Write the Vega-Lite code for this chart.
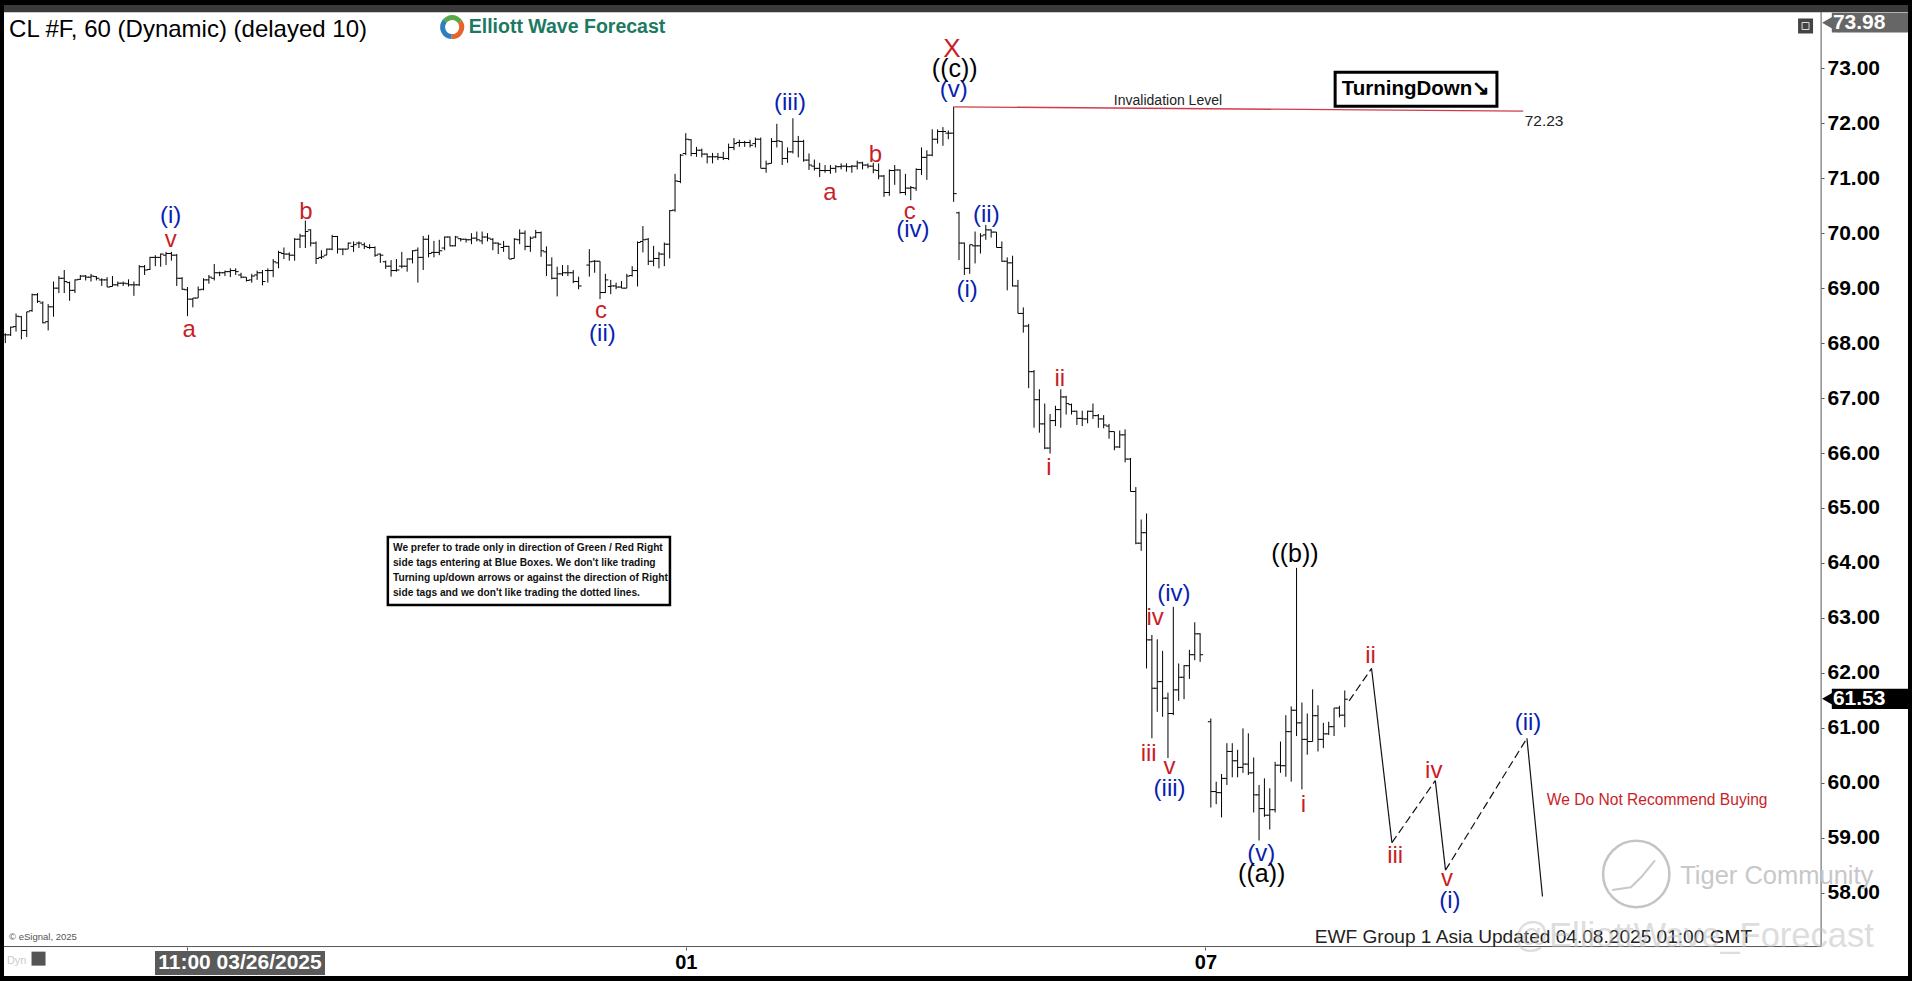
{"$schema":"https://vega.github.io/schema/vega-lite/v6.json","width":1904,"height":971,"autosize":{"type":"none"},"padding":{"left":4,"top":5,"right":4,"bottom":5},"background":"#000000","view":{"fill":"#ffffff","stroke":null},"config":{"axis":{"grid":false,"title":null}},
"datasets":{
"bars":[
{"i":0,"o":68.15,"h":68.18,"l":68.0,"c":68.15},{"i":1,"o":68.15,"h":68.3,"l":68.13,"c":68.29},{"i":2,"o":68.3,"h":68.54,"l":68.21,"c":68.49},{"i":3,"o":68.48,"h":68.49,"l":68.07,"c":68.23},{"i":4,"o":68.23,"h":68.57,"l":68.11,"c":68.57},{"i":5,"o":68.59,"h":68.9,"l":68.57,"c":68.88},{"i":6,"o":68.88,"h":68.91,"l":68.73,"c":68.76},{"i":7,"o":68.73,"h":68.76,"l":68.36,"c":68.37},{"i":8,"o":68.39,"h":68.71,"l":68.23,"c":68.66},{"i":9,"o":68.66,"h":69.12,"l":68.48,"c":69.0},
{"i":10,"o":69.0,"h":69.22,"l":68.91,"c":69.18},{"i":11,"o":69.18,"h":69.33,"l":68.91,"c":69.12},{"i":12,"o":69.1,"h":69.12,"l":68.77,"c":68.96},{"i":13,"o":68.96,"h":69.16,"l":68.91,"c":69.15},{"i":14,"o":69.16,"h":69.24,"l":69.15,"c":69.22},{"i":15,"o":69.22,"h":69.24,"l":69.14,"c":69.2},{"i":16,"o":69.2,"h":69.26,"l":69.12,"c":69.22},{"i":17,"o":69.21,"h":69.22,"l":69.14,"c":69.18},{"i":18,"o":69.15,"h":69.18,"l":69.04,"c":69.15},{"i":19,"o":69.15,"h":69.2,"l":69.02,"c":69.02},
{"i":20,"o":69.03,"h":69.22,"l":69.03,"c":69.06},{"i":21,"o":69.06,"h":69.12,"l":69.03,"c":69.09},{"i":22,"o":69.09,"h":69.12,"l":69.04,"c":69.09},{"i":23,"o":69.08,"h":69.16,"l":69.03,"c":69.06},{"i":24,"o":69.06,"h":69.12,"l":68.86,"c":69.06},{"i":25,"o":69.06,"h":69.42,"l":69.04,"c":69.39},{"i":26,"o":69.39,"h":69.42,"l":69.24,"c":69.33},{"i":27,"o":69.34,"h":69.57,"l":69.33,"c":69.56},{"i":28,"o":69.56,"h":69.6,"l":69.4,"c":69.56},{"i":29,"o":69.56,"h":69.63,"l":69.39,"c":69.62},
{"i":30,"o":69.6,"h":69.66,"l":69.42,"c":69.63},{"i":31,"o":69.63,"h":69.66,"l":69.5,"c":69.6},{"i":32,"o":69.6,"h":69.62,"l":69.04,"c":69.18},{"i":33,"o":69.18,"h":69.2,"l":68.97,"c":68.98},{"i":34,"o":68.97,"h":69.02,"l":68.49,"c":68.8},{"i":35,"o":68.8,"h":68.82,"l":68.65,"c":68.82},{"i":36,"o":68.82,"h":69.03,"l":68.82,"c":68.97},{"i":37,"o":68.98,"h":69.18,"l":68.96,"c":69.15},{"i":38,"o":69.15,"h":69.24,"l":69.08,"c":69.2},{"i":39,"o":69.18,"h":69.44,"l":69.14,"c":69.28},
{"i":40,"o":69.28,"h":69.3,"l":69.22,"c":69.28},{"i":41,"o":69.28,"h":69.32,"l":69.22,"c":69.3},{"i":42,"o":69.3,"h":69.36,"l":69.2,"c":69.32},{"i":43,"o":69.32,"h":69.36,"l":69.24,"c":69.3},{"i":44,"o":69.24,"h":69.28,"l":69.18,"c":69.2},{"i":45,"o":69.2,"h":69.2,"l":69.12,"c":69.14},{"i":46,"o":69.15,"h":69.26,"l":69.1,"c":69.22},{"i":47,"o":69.24,"h":69.32,"l":69.15,"c":69.28},{"i":48,"o":69.28,"h":69.33,"l":69.05,"c":69.12},{"i":49,"o":69.32,"h":69.36,"l":69.1,"c":69.32},
{"i":50,"o":69.32,"h":69.53,"l":69.2,"c":69.48},{"i":51,"o":69.46,"h":69.68,"l":69.36,"c":69.65},{"i":52,"o":69.63,"h":69.74,"l":69.53,"c":69.62},{"i":53,"o":69.62,"h":69.65,"l":69.5,"c":69.6},{"i":54,"o":69.6,"h":69.91,"l":69.5,"c":69.89},{"i":55,"o":69.89,"h":69.99,"l":69.73,"c":69.95},{"i":56,"o":69.95,"h":70.23,"l":69.73,"c":70.03},{"i":57,"o":70.06,"h":70.07,"l":69.76,"c":69.82},{"i":58,"o":69.82,"h":69.85,"l":69.44,"c":69.54},{"i":59,"o":69.56,"h":69.69,"l":69.53,"c":69.57},
{"i":60,"o":69.6,"h":69.72,"l":69.6,"c":69.71},{"i":61,"o":69.71,"h":69.97,"l":69.69,"c":69.94},{"i":62,"o":69.94,"h":69.95,"l":69.63,"c":69.71},{"i":63,"o":69.71,"h":69.72,"l":69.6,"c":69.71},{"i":64,"o":69.71,"h":69.83,"l":69.71,"c":69.82},{"i":65,"o":69.76,"h":69.85,"l":69.66,"c":69.79},{"i":66,"o":69.82,"h":69.85,"l":69.73,"c":69.82},{"i":67,"o":69.79,"h":69.83,"l":69.71,"c":69.76},{"i":68,"o":69.74,"h":69.8,"l":69.71,"c":69.74},{"i":69,"o":69.74,"h":69.76,"l":69.57,"c":69.6},
{"i":70,"o":69.62,"h":69.63,"l":69.46,"c":69.6},{"i":71,"o":69.48,"h":69.5,"l":69.35,"c":69.4},{"i":72,"o":69.4,"h":69.51,"l":69.21,"c":69.32},{"i":73,"o":69.32,"h":69.53,"l":69.3,"c":69.33},{"i":74,"o":69.4,"h":69.66,"l":69.36,"c":69.4},{"i":75,"o":69.4,"h":69.54,"l":69.3,"c":69.53},{"i":76,"o":69.53,"h":69.69,"l":69.45,"c":69.68},{"i":77,"o":69.69,"h":69.74,"l":69.1,"c":69.56},{"i":78,"o":69.56,"h":69.95,"l":69.33,"c":69.89},{"i":79,"o":69.89,"h":69.97,"l":69.56,"c":69.63},
{"i":80,"o":69.65,"h":69.86,"l":69.56,"c":69.65},{"i":81,"o":69.65,"h":69.88,"l":69.6,"c":69.68},{"i":82,"o":69.73,"h":69.94,"l":69.69,"c":69.93},{"i":83,"o":69.93,"h":69.94,"l":69.76,"c":69.77},{"i":84,"o":69.77,"h":69.95,"l":69.76,"c":69.93},{"i":85,"o":69.9,"h":69.91,"l":69.85,"c":69.89},{"i":86,"o":69.89,"h":69.9,"l":69.83,"c":69.88},{"i":87,"o":69.88,"h":70.0,"l":69.8,"c":69.91},{"i":88,"o":69.91,"h":70.03,"l":69.85,"c":69.88},{"i":89,"o":69.86,"h":70.03,"l":69.8,"c":69.93},
{"i":90,"o":69.93,"h":70.0,"l":69.85,"c":69.91},{"i":91,"o":69.89,"h":69.91,"l":69.69,"c":69.82},{"i":92,"o":69.82,"h":69.83,"l":69.62,"c":69.8},{"i":93,"o":69.74,"h":69.86,"l":69.66,"c":69.76},{"i":94,"o":69.76,"h":69.77,"l":69.53,"c":69.53},{"i":95,"o":69.54,"h":69.91,"l":69.54,"c":69.89},{"i":96,"o":69.88,"h":70.07,"l":69.8,"c":70.0},{"i":97,"o":70.0,"h":70.05,"l":69.69,"c":69.76},{"i":98,"o":69.76,"h":69.94,"l":69.66,"c":69.91},{"i":99,"o":69.93,"h":70.06,"l":69.91,"c":70.01},
{"i":100,"o":70.01,"h":70.03,"l":69.57,"c":69.68},{"i":101,"o":69.66,"h":69.76,"l":69.22,"c":69.42},{"i":102,"o":69.42,"h":69.56,"l":69.16,"c":69.18},{"i":103,"o":69.18,"h":69.39,"l":68.85,"c":69.26},{"i":104,"o":69.26,"h":69.42,"l":69.22,"c":69.28},{"i":105,"o":69.28,"h":69.42,"l":69.22,"c":69.28},{"i":106,"o":69.28,"h":69.33,"l":69.09,"c":69.12},{"i":107,"o":69.12,"h":69.21,"l":68.98,"c":69.04},{"i":109,"o":69.42,"h":69.71,"l":69.21,"c":69.48},
{"i":110,"o":69.49,"h":69.51,"l":69.28,"c":69.49},{"i":111,"o":69.49,"h":69.49,"l":68.8,"c":68.92},{"i":112,"o":68.92,"h":69.26,"l":68.91,"c":69.15},{"i":113,"o":69.03,"h":69.15,"l":68.89,"c":69.04},{"i":114,"o":69.04,"h":69.1,"l":68.98,"c":69.02},{"i":115,"o":69.02,"h":69.13,"l":69.0,"c":69.0},{"i":116,"o":69.0,"h":69.26,"l":69.0,"c":69.22},{"i":117,"o":69.23,"h":69.4,"l":69.21,"c":69.32},{"i":118,"o":69.32,"h":69.85,"l":69.03,"c":69.83},{"i":119,"o":69.85,"h":70.13,"l":69.65,"c":69.88},
{"i":120,"o":69.89,"h":69.91,"l":69.42,"c":69.49},{"i":121,"o":69.49,"h":69.77,"l":69.4,"c":69.54},{"i":122,"o":69.54,"h":69.66,"l":69.36,"c":69.62},{"i":123,"o":69.62,"h":69.83,"l":69.4,"c":69.8},{"i":124,"o":69.8,"h":70.42,"l":69.54,"c":70.41},{"i":125,"o":70.42,"h":71.08,"l":70.39,"c":70.95},{"i":126,"o":70.94,"h":71.44,"l":70.91,"c":71.42},{"i":127,"o":71.45,"h":71.82,"l":71.42,"c":71.71},{"i":128,"o":71.7,"h":71.71,"l":71.4,"c":71.45},{"i":129,"o":71.45,"h":71.57,"l":71.39,"c":71.51},
{"i":130,"o":71.51,"h":71.54,"l":71.38,"c":71.44},{"i":131,"o":71.44,"h":71.45,"l":71.27,"c":71.39},{"i":132,"o":71.39,"h":71.46,"l":71.27,"c":71.39},{"i":133,"o":71.39,"h":71.46,"l":71.33,"c":71.38},{"i":134,"o":71.38,"h":71.48,"l":71.33,"c":71.36},{"i":135,"o":71.36,"h":71.63,"l":71.33,"c":71.56},{"i":136,"o":71.56,"h":71.73,"l":71.51,"c":71.63},{"i":137,"o":71.65,"h":71.7,"l":71.57,"c":71.65},{"i":138,"o":71.65,"h":71.68,"l":71.57,"c":71.65},{"i":139,"o":71.65,"h":71.7,"l":71.56,"c":71.6},
{"i":140,"o":71.63,"h":71.74,"l":71.56,"c":71.71},{"i":141,"o":71.71,"h":71.74,"l":71.18,"c":71.18},{"i":142,"o":71.18,"h":71.32,"l":71.1,"c":71.26},{"i":143,"o":71.27,"h":71.73,"l":71.27,"c":71.67},{"i":144,"o":71.67,"h":71.99,"l":71.56,"c":71.68},{"i":145,"o":71.67,"h":71.67,"l":71.24,"c":71.36},{"i":146,"o":71.36,"h":71.56,"l":71.28,"c":71.48},{"i":147,"o":71.48,"h":72.09,"l":71.45,"c":71.67},{"i":148,"o":71.67,"h":71.77,"l":71.38,"c":71.67},{"i":149,"o":71.67,"h":71.7,"l":71.3,"c":71.33},
{"i":150,"o":71.33,"h":71.45,"l":71.15,"c":71.24},{"i":151,"o":71.22,"h":71.34,"l":71.14,"c":71.18},{"i":152,"o":71.18,"h":71.28,"l":71.02,"c":71.14},{"i":153,"o":71.14,"h":71.24,"l":71.1,"c":71.14},{"i":154,"o":71.14,"h":71.24,"l":71.08,"c":71.18},{"i":155,"o":71.18,"h":71.24,"l":71.1,"c":71.21},{"i":156,"o":71.21,"h":71.27,"l":71.16,"c":71.22},{"i":157,"o":71.22,"h":71.27,"l":71.12,"c":71.21},{"i":158,"o":71.21,"h":71.24,"l":71.1,"c":71.22},{"i":159,"o":71.22,"h":71.32,"l":71.16,"c":71.28},
{"i":160,"o":71.28,"h":71.3,"l":71.16,"c":71.24},{"i":161,"o":71.24,"h":71.27,"l":71.18,"c":71.22},{"i":162,"o":71.22,"h":71.28,"l":71.09,"c":71.15},{"i":163,"o":71.14,"h":71.27,"l":70.98,"c":71.04},{"i":164,"o":71.04,"h":71.06,"l":70.66,"c":70.74},{"i":165,"o":70.74,"h":71.16,"l":70.68,"c":71.14},{"i":166,"o":71.14,"h":71.24,"l":70.88,"c":71.15},{"i":167,"o":71.15,"h":71.16,"l":70.72,"c":70.74},{"i":168,"o":70.74,"h":71.08,"l":70.69,"c":70.82},{"i":169,"o":70.82,"h":70.86,"l":70.6,"c":70.83},
{"i":170,"o":70.82,"h":71.18,"l":70.77,"c":71.16},{"i":171,"o":71.16,"h":71.56,"l":71.06,"c":71.38},{"i":172,"o":71.38,"h":71.51,"l":70.97,"c":71.42},{"i":173,"o":71.42,"h":71.89,"l":71.4,"c":71.71},{"i":174,"o":71.71,"h":71.89,"l":71.63,"c":71.85},{"i":175,"o":71.85,"h":71.93,"l":71.59,"c":71.85},{"i":176,"o":71.82,"h":71.87,"l":71.71,"c":71.82},{"i":177,"o":71.82,"h":72.3,"l":70.57,"c":70.72},{"i":178,"o":70.37,"h":70.39,"l":69.51,"c":69.82},{"i":179,"o":69.82,"h":69.83,"l":69.24,"c":69.36},
{"i":180,"o":69.36,"h":69.79,"l":69.26,"c":69.79},{"i":181,"o":69.77,"h":70.03,"l":69.45,"c":69.77},{"i":182,"o":69.77,"h":70.0,"l":69.63,"c":69.95},{"i":183,"o":69.97,"h":70.15,"l":69.88,"c":70.06},{"i":184,"o":70.06,"h":70.07,"l":69.92,"c":70.02},{"i":185,"o":70.02,"h":70.02,"l":69.74,"c":69.74},{"i":186,"o":69.74,"h":69.85,"l":69.48,"c":69.49},{"i":187,"o":69.49,"h":69.56,"l":68.96,"c":69.46},{"i":188,"o":69.46,"h":69.59,"l":69.03,"c":69.04},{"i":189,"o":69.04,"h":69.15,"l":68.54,"c":68.54},
{"i":190,"o":68.54,"h":68.65,"l":68.19,"c":68.31},{"i":191,"o":68.31,"h":68.35,"l":67.18,"c":67.48},{"i":192,"o":67.48,"h":67.51,"l":66.46,"c":66.97},{"i":193,"o":66.97,"h":67.16,"l":66.37,"c":66.53},{"i":194,"o":66.53,"h":66.9,"l":66.07,"c":66.09},{"i":195,"o":66.09,"h":66.71,"l":65.99,"c":66.59},{"i":196,"o":66.59,"h":66.86,"l":66.49,"c":66.79},{"i":197,"o":66.79,"h":67.16,"l":66.46,"c":67.02},{"i":198,"o":67.02,"h":67.04,"l":66.7,"c":66.9},{"i":199,"o":66.88,"h":66.9,"l":66.7,"c":66.76},
{"i":200,"o":66.76,"h":66.77,"l":66.51,"c":66.63},{"i":201,"o":66.63,"h":66.77,"l":66.49,"c":66.62},{"i":202,"o":66.62,"h":66.77,"l":66.54,"c":66.76},{"i":203,"o":66.76,"h":66.9,"l":66.62,"c":66.68},{"i":204,"o":66.68,"h":66.71,"l":66.46,"c":66.62},{"i":205,"o":66.62,"h":66.69,"l":66.45,"c":66.51},{"i":206,"o":66.49,"h":66.53,"l":66.26,"c":66.39},{"i":207,"o":66.39,"h":66.39,"l":66.05,"c":66.11},{"i":208,"o":66.11,"h":66.41,"l":66.09,"c":66.33},{"i":209,"o":66.33,"h":66.43,"l":65.83,"c":65.89},
{"i":210,"o":65.89,"h":65.91,"l":65.3,"c":65.3},{"i":211,"o":65.3,"h":65.38,"l":64.34,"c":64.36},{"i":212,"o":64.36,"h":64.79,"l":64.22,"c":64.55},{"i":213,"o":64.55,"h":64.9,"l":62.08,"c":62.6},{"i":214,"o":62.6,"h":62.69,"l":60.81,"c":61.72},{"i":215,"o":61.72,"h":62.61,"l":61.29,"c":61.84},{"i":216,"o":61.84,"h":62.4,"l":61.2,"c":61.54},{"i":217,"o":61.54,"h":61.64,"l":60.45,"c":61.26},{"i":218,"o":61.26,"h":63.2,"l":61.23,"c":61.69},{"i":219,"o":61.69,"h":62.17,"l":61.49,"c":61.92},
{"i":220,"o":61.92,"h":62.14,"l":61.52,"c":62.13},{"i":221,"o":62.13,"h":62.42,"l":61.89,"c":62.33},{"i":222,"o":62.33,"h":62.92,"l":62.23,"c":62.71},{"i":223,"o":62.71,"h":62.72,"l":62.2,"c":62.33},{"i":225,"o":61.11,"h":61.17,"l":59.55,"c":59.84},{"i":226,"o":59.84,"h":60.02,"l":59.61,"c":59.82},{"i":227,"o":59.82,"h":60.16,"l":59.37,"c":60.08},{"i":228,"o":60.08,"h":60.72,"l":59.96,"c":60.57},{"i":229,"o":60.57,"h":60.72,"l":60.1,"c":60.4},
{"i":230,"o":60.4,"h":60.6,"l":60.1,"c":60.28},{"i":231,"o":60.28,"h":60.99,"l":60.18,"c":60.34},{"i":232,"o":60.34,"h":60.9,"l":60.14,"c":60.18},{"i":233,"o":60.18,"h":60.46,"l":59.46,"c":59.78},{"i":234,"o":59.78,"h":59.96,"l":58.95,"c":59.53},{"i":235,"o":59.53,"h":60.08,"l":59.38,"c":59.41},{"i":236,"o":59.41,"h":59.9,"l":59.15,"c":59.51},{"i":237,"o":59.51,"h":60.38,"l":59.46,"c":60.32},{"i":238,"o":60.32,"h":60.75,"l":60.18,"c":60.31},{"i":239,"o":60.31,"h":61.23,"l":60.11,"c":60.93},
{"i":240,"o":60.93,"h":61.39,"l":60.02,"c":61.32},{"i":241,"o":61.32,"h":63.91,"l":60.85,"c":61.09},{"i":242,"o":61.09,"h":61.46,"l":59.88,"c":60.79},{"i":243,"o":60.79,"h":61.26,"l":60.51,"c":60.75},{"i":244,"o":60.75,"h":61.7,"l":60.75,"c":61.22},{"i":245,"o":61.22,"h":61.41,"l":60.57,"c":60.79},{"i":246,"o":60.79,"h":61.09,"l":60.63,"c":60.89},{"i":247,"o":60.89,"h":61.11,"l":60.87,"c":61.02},{"i":248,"o":61.02,"h":61.36,"l":60.85,"c":61.36},{"i":249,"o":61.36,"h":61.4,"l":61.19,"c":61.23},{"i":250,"o":61.23,"h":61.68,"l":61.01,"c":61.52}
],
"waves":[
{"t":"(i)","k":"blue","i":30.87,"p":70.32},{"t":"(ii)","k":"blue","i":111.44,"p":68.17},{"t":"(iii)","k":"blue","i":146.45,"p":72.36},{"t":"(iv)","k":"blue","i":169.4,"p":70.05},{"t":"(v)","k":"blue","i":177,"p":72.61},{"t":"(i)","k":"blue","i":179.5,"p":68.97},{"t":"(ii)","k":"blue","i":183.1,"p":70.34},{"t":"(iii)","k":"blue","i":217.3,"p":59.89},{"t":"(iv)","k":"blue","i":218.1,"p":63.43},{"t":"(v)","k":"blue","i":234.4,"p":58.71},{"t":"(i)","k":"blue","i":269.6,"p":57.85},{"t":"(ii)","k":"blue","i":284.2,"p":61.09},
{"t":"v","k":"red","i":30.87,"p":69.88},{"t":"a","k":"red","i":34.3,"p":68.23},{"t":"b","k":"red","i":56.1,"p":70.39},{"t":"c","k":"red","i":111.2,"p":68.58},{"t":"a","k":"red","i":153.9,"p":70.74},{"t":"b","k":"red","i":162.4,"p":71.42},{"t":"c","k":"red","i":168.8,"p":70.39},{"t":"i","k":"red","i":194.8,"p":65.73},{"t":"ii","k":"red","i":196.8,"p":67.35},{"t":"iii","k":"red","i":213.4,"p":60.53},{"t":"iv","k":"red","i":214.6,"p":63.0},{"t":"v","k":"red","i":217.3,"p":60.29},{"t":"i","k":"red","i":242.3,"p":59.6},{"t":"ii","k":"red","i":254.8,"p":62.31},{"t":"iii","k":"red","i":259.4,"p":58.67},{"t":"iv","k":"red","i":266.6,"p":60.22},{"t":"v","k":"red","i":269.1,"p":58.25},
{"t":"X","k":"x","i":176.7,"p":73.35},
{"t":"((c))","k":"black","i":177.2,"p":72.98},{"t":"((b))","k":"black","i":240.7,"p":64.17},{"t":"((a))","k":"black","i":234.5,"p":58.34}
],
"path":[
{"seg":"a","d":1,"i":250.8,"p":61.49},{"seg":"a","d":1,"i":255,"p":62.08},{"seg":"b","d":0,"i":255,"p":62.08},{"seg":"b","d":0,"i":258.8,"p":58.91},{"seg":"c","d":1,"i":258.8,"p":58.91},{"seg":"c","d":1,"i":266.9,"p":60.04},{"seg":"d","d":0,"i":266.9,"p":60.04},{"seg":"d","d":0,"i":268.8,"p":58.41},{"seg":"e","d":1,"i":268.8,"p":58.41},{"seg":"e","d":1,"i":284,"p":60.81},{"seg":"f","d":0,"i":284,"p":60.81},{"seg":"f","d":0,"i":286.9,"p":57.93}
],
"swoosh":[{"i":299.9,"p":58.05},{"i":303.4,"p":58.1},{"i":305.3,"p":58.28},{"i":307.9,"p":58.59}],
"invalid":[{"i":177,"p":72.3},{"i":283.3,"p":72.22}],
"axisLines":[{"i":-0.243,"i2":338.9,"p":57.02,"p2":57.02},{"i":338.9,"i2":338.9,"p":57.02,"p2":74.02}],
"boxes":[
{"k":"band","i":-0.243,"i2":355.12,"p":74.02,"p2":74.152},
{"k":"grayTag","i":340.9,"i2":355.12,"p":73.65,"p2":74.01},
{"k":"blackTag","i":340.9,"i2":355.12,"p":61.34,"p2":61.71},
{"k":"dateTag","i":27.94,"i2":59.67,"p":56.5,"p2":56.94},
{"k":"frame","i":248.2,"i2":278.4,"p":72.31,"p2":72.93},
{"k":"frame2","i":71.4,"i2":124.05,"p":63.235,"p2":64.47}
],
"marks":[
{"k":"grayArrow","i":340.7,"p":73.83},{"k":"blackArrow","i":340.7,"p":61.53},{"k":"icon","i":336,"p":73.77},{"k":"lock","i":6.2,"p":56.8},{"k":"ring","i":304.4,"p":58.34}
],
"notes":[
{"k":"title","t":"CL #F, 60 (Dynamic) (delayed 10)","i":0.7,"p":73.7},
{"k":"brand","t":"Elliott Wave Forecast","i":86.5,"p":73.75},
{"k":"inv","t":"Invalidation Level","i":217,"p":72.41},
{"k":"invv","t":"72.23","i":287.2,"p":72.04},
{"k":"turn","t":"TurningDown↘","i":263.3,"p":72.62},
{"k":"info","t":"We prefer to trade only in direction of Green / Red Right","i":72.35,"p":64.27},
{"k":"info","t":"side tags entering at Blue Boxes. We don't like trading","i":72.35,"p":64.0},
{"k":"info","t":"Turning up/down arrows or against the direction of Right","i":72.35,"p":63.73},
{"k":"info","t":"side tags and we don't like trading the dotted lines.","i":72.35,"p":63.45},
{"k":"advice","t":"We Do Not Recommend Buying","i":287.7,"p":59.69},
{"k":"ewf","t":"EWF Group 1 Asia Updated 04.08.2025 01:00 GMT","i":244.4,"p":57.2},
{"k":"mark","t":"@ElliottWave_Forecast","i":281.6,"p":57.19},
{"k":"tiger","t":"Tiger Community","i":312.6,"p":58.3},
{"k":"esignal","t":"© eSignal, 2025","i":0.7,"p":57.19},
{"k":"dyn","t":"Dyn","i":0.3,"p":56.76},
{"k":"date","t":"11:00 03/26/2025","i":43.8,"p":56.72},
{"k":"tag","t":"73.98","i":341.1,"p":73.83},
{"k":"tag","t":"61.53","i":341.1,"p":61.52}
],
"logo":[{"i":83.4,"p":73.75}]
},
"layer":[
{"data":{"name":"bars"},"mark":{"type":"rule","color":"#000000","strokeWidth":1},"encoding":{
"x":{"field":"i","type":"quantitative","scale":{"domain":[-0.243,355.12],"nice":false,"zero":false},"axis":{"orient":"bottom","offset":-29,"values":[34,127,224],"labelExpr":"datum.value==127?'01':datum.value==224?'07':''","grid":false,"domain":false,"title":null,"tickColor":"#555555","tickSize":3,"labelFont":"Liberation Sans","labelFontWeight":"bold","labelFontSize":20,"labelColor":"#000000","labelPadding":2,"labelOverlap":false,"labelBound":false,"labelFlush":false}},
"y":{"field":"l","type":"quantitative","scale":{"domain":[56.484,74.152],"nice":false,"zero":false},"axis":{"orient":"right","offset":-87,"values":[58,59,60,61,62,63,64,65,66,67,68,69,70,71,72,73],"format":".2f","grid":false,"domain":false,"title":null,"tickColor":"#555555","tickSize":3,"labelFont":"Liberation Sans","labelFontWeight":"bold","labelFontSize":21,"labelColor":"#000000","labelPadding":3,"labelOverlap":false,"labelBound":false,"labelFlush":false}},
"y2":{"field":"h"}}},
{"data":{"name":"bars"},"mark":{"type":"tick","orient":"horizontal","color":"#000000","size":3,"thickness":1,"xOffset":-1.5,"opacity":1},"encoding":{"x":{"field":"i","type":"quantitative"},"y":{"field":"o","type":"quantitative"}}},
{"data":{"name":"bars"},"mark":{"type":"tick","orient":"horizontal","color":"#000000","size":3,"thickness":1,"xOffset":1.5,"opacity":1},"encoding":{"x":{"field":"i","type":"quantitative"},"y":{"field":"c","type":"quantitative"}}},
{"data":{"name":"path"},"transform":[{"filter":"datum.d==1"}],"mark":{"type":"line","color":"#111111","strokeWidth":1.2,"strokeDash":[8,4]},"encoding":{"x":{"field":"i","type":"quantitative"},"y":{"field":"p","type":"quantitative"},"detail":{"field":"seg"}}},
{"data":{"name":"path"},"transform":[{"filter":"datum.d==0"}],"mark":{"type":"line","color":"#111111","strokeWidth":1.2},"encoding":{"x":{"field":"i","type":"quantitative"},"y":{"field":"p","type":"quantitative"},"detail":{"field":"seg"}}},
{"data":{"name":"invalid"},"mark":{"type":"line","color":"#d23a4a","strokeWidth":1.3},"encoding":{"x":{"field":"i","type":"quantitative"},"y":{"field":"p","type":"quantitative"}}},
{"data":{"name":"swoosh"},"mark":{"type":"line","color":"#c8c8c8","strokeWidth":2},"encoding":{"x":{"field":"i","type":"quantitative"},"y":{"field":"p","type":"quantitative"}}},
{"data":{"name":"axisLines"},"mark":{"type":"rule","color":"#555555","strokeWidth":1},"encoding":{"x":{"field":"i","type":"quantitative"},"x2":{"field":"i2"},"y":{"field":"p","type":"quantitative"},"y2":{"field":"p2"}}},
{"data":{"name":"boxes"},"transform":[{"filter":"datum.k=='band'"}],"mark":{"type":"rect","fill":"#3a3a3a"},"encoding":{"x":{"field":"i","type":"quantitative"},"x2":{"field":"i2"},"y":{"field":"p","type":"quantitative"},"y2":{"field":"p2"}}},
{"data":{"name":"boxes"},"transform":[{"filter":"datum.k=='grayTag'"}],"mark":{"type":"rect","fill":"#666666"},"encoding":{"x":{"field":"i","type":"quantitative"},"x2":{"field":"i2"},"y":{"field":"p","type":"quantitative"},"y2":{"field":"p2"}}},
{"data":{"name":"boxes"},"transform":[{"filter":"datum.k=='blackTag'"}],"mark":{"type":"rect","fill":"#000000"},"encoding":{"x":{"field":"i","type":"quantitative"},"x2":{"field":"i2"},"y":{"field":"p","type":"quantitative"},"y2":{"field":"p2"}}},
{"data":{"name":"boxes"},"transform":[{"filter":"datum.k=='dateTag'"}],"mark":{"type":"rect","fill":"#5a5a5a"},"encoding":{"x":{"field":"i","type":"quantitative"},"x2":{"field":"i2"},"y":{"field":"p","type":"quantitative"},"y2":{"field":"p2"}}},
{"data":{"name":"boxes"},"transform":[{"filter":"datum.k=='frame'"}],"mark":{"type":"rect","fill":"#ffffff","stroke":"#000000","strokeWidth":3},"encoding":{"x":{"field":"i","type":"quantitative"},"x2":{"field":"i2"},"y":{"field":"p","type":"quantitative"},"y2":{"field":"p2"}}},
{"data":{"name":"boxes"},"transform":[{"filter":"datum.k=='frame2'"}],"mark":{"type":"rect","fill":"#ffffff","stroke":"#000000","strokeWidth":2.5},"encoding":{"x":{"field":"i","type":"quantitative"},"x2":{"field":"i2"},"y":{"field":"p","type":"quantitative"},"y2":{"field":"p2"}}},
{"data":{"name":"marks"},"transform":[{"filter":"datum.k=='grayArrow'"}],"mark":{"type":"point","shape":"triangle-left","filled":true,"color":"#666666","size":400,"opacity":1},"encoding":{"x":{"field":"i","type":"quantitative"},"y":{"field":"p","type":"quantitative"}}},
{"data":{"name":"marks"},"transform":[{"filter":"datum.k=='blackArrow'"}],"mark":{"type":"point","shape":"triangle-left","filled":true,"color":"#000000","size":400,"opacity":1},"encoding":{"x":{"field":"i","type":"quantitative"},"y":{"field":"p","type":"quantitative"}}},
{"data":{"name":"marks"},"transform":[{"filter":"datum.k=='icon'"}],"mark":{"type":"point","shape":"square","filled":true,"color":"#444444","size":225,"opacity":1},"encoding":{"x":{"field":"i","type":"quantitative"},"y":{"field":"p","type":"quantitative"}}},
{"data":{"name":"marks"},"transform":[{"filter":"datum.k=='icon'"}],"mark":{"type":"point","shape":"square","filled":false,"color":"#dddddd","strokeWidth":1,"size":49,"opacity":1},"encoding":{"x":{"field":"i","type":"quantitative"},"y":{"field":"p","type":"quantitative"}}},
{"data":{"name":"marks"},"transform":[{"filter":"datum.k=='lock'"}],"mark":{"type":"point","shape":"square","filled":true,"color":"#555555","size":196,"opacity":1},"encoding":{"x":{"field":"i","type":"quantitative"},"y":{"field":"p","type":"quantitative"}}},
{"data":{"name":"marks"},"transform":[{"filter":"datum.k=='ring'"}],"mark":{"type":"point","shape":"circle","filled":false,"color":"#c4c4c4","strokeWidth":2.5,"size":4400,"opacity":1},"encoding":{"x":{"field":"i","type":"quantitative"},"y":{"field":"p","type":"quantitative"}}},
{"data":{"name":"logo"},"mark":{"type":"arc","theta":-0.9,"theta2":1.0,"radius":12,"radius2":7,"color":"#5aa84a"},"encoding":{"x":{"field":"i","type":"quantitative"},"y":{"field":"p","type":"quantitative"}}},
{"data":{"name":"logo"},"mark":{"type":"arc","theta":1.0,"theta2":3.2,"radius":12,"radius2":7,"color":"#e8622c"},"encoding":{"x":{"field":"i","type":"quantitative"},"y":{"field":"p","type":"quantitative"}}},
{"data":{"name":"logo"},"mark":{"type":"arc","theta":3.2,"theta2":5.4,"radius":12,"radius2":7,"color":"#2f7fc0"},"encoding":{"x":{"field":"i","type":"quantitative"},"y":{"field":"p","type":"quantitative"}}},
{"data":{"name":"waves"},"transform":[{"filter":"datum.k=='blue'"}],"mark":{"type":"text","font":"Liberation Sans","fontSize":24,"color":"#0a1fb0","align":"center","baseline":"middle"},"encoding":{"x":{"field":"i","type":"quantitative"},"y":{"field":"p","type":"quantitative"},"text":{"field":"t"}}},
{"data":{"name":"waves"},"transform":[{"filter":"datum.k=='red'"}],"mark":{"type":"text","font":"Liberation Sans","fontSize":24,"color":"#c81e28","align":"center","baseline":"middle"},"encoding":{"x":{"field":"i","type":"quantitative"},"y":{"field":"p","type":"quantitative"},"text":{"field":"t"}}},
{"data":{"name":"waves"},"transform":[{"filter":"datum.k=='x'"}],"mark":{"type":"text","font":"Liberation Sans","fontSize":26,"color":"#c81e28","align":"center","baseline":"middle"},"encoding":{"x":{"field":"i","type":"quantitative"},"y":{"field":"p","type":"quantitative"},"text":{"field":"t"}}},
{"data":{"name":"waves"},"transform":[{"filter":"datum.k=='black'"}],"mark":{"type":"text","font":"Liberation Sans","fontSize":25,"color":"#000000","align":"center","baseline":"middle"},"encoding":{"x":{"field":"i","type":"quantitative"},"y":{"field":"p","type":"quantitative"},"text":{"field":"t"}}},
{"data":{"name":"notes"},"transform":[{"filter":"datum.k=='title'"}],"mark":{"type":"text","font":"Liberation Sans","fontSize":24,"color":"#000000","align":"left","baseline":"middle"},"encoding":{"x":{"field":"i","type":"quantitative"},"y":{"field":"p","type":"quantitative"},"text":{"field":"t"}}},
{"data":{"name":"notes"},"transform":[{"filter":"datum.k=='brand'"}],"mark":{"type":"text","font":"Liberation Sans","fontWeight":"bold","fontSize":19.5,"color":"#1c7a63","align":"left","baseline":"middle"},"encoding":{"x":{"field":"i","type":"quantitative"},"y":{"field":"p","type":"quantitative"},"text":{"field":"t"}}},
{"data":{"name":"notes"},"transform":[{"filter":"datum.k=='inv'"}],"mark":{"type":"text","font":"Liberation Sans","fontSize":14,"color":"#222222","align":"center","baseline":"middle"},"encoding":{"x":{"field":"i","type":"quantitative"},"y":{"field":"p","type":"quantitative"},"text":{"field":"t"}}},
{"data":{"name":"notes"},"transform":[{"filter":"datum.k=='invv'"}],"mark":{"type":"text","font":"Liberation Sans","fontSize":15.5,"color":"#222222","align":"center","baseline":"middle"},"encoding":{"x":{"field":"i","type":"quantitative"},"y":{"field":"p","type":"quantitative"},"text":{"field":"t"}}},
{"data":{"name":"notes"},"transform":[{"filter":"datum.k=='turn'"}],"mark":{"type":"text","font":"Liberation Sans","fontWeight":"bold","fontSize":20.5,"color":"#000000","align":"center","baseline":"middle"},"encoding":{"x":{"field":"i","type":"quantitative"},"y":{"field":"p","type":"quantitative"},"text":{"field":"t"}}},
{"data":{"name":"notes"},"transform":[{"filter":"datum.k=='info'"}],"mark":{"type":"text","font":"Liberation Sans","fontWeight":"bold","fontSize":10.2,"color":"#111111","align":"left","baseline":"middle"},"encoding":{"x":{"field":"i","type":"quantitative"},"y":{"field":"p","type":"quantitative"},"text":{"field":"t"}}},
{"data":{"name":"notes"},"transform":[{"filter":"datum.k=='advice'"}],"mark":{"type":"text","font":"Liberation Sans","fontSize":15.6,"color":"#c81e28","align":"left","baseline":"middle"},"encoding":{"x":{"field":"i","type":"quantitative"},"y":{"field":"p","type":"quantitative"},"text":{"field":"t"}}},
{"data":{"name":"notes"},"transform":[{"filter":"datum.k=='ewf'"}],"mark":{"type":"text","font":"Liberation Sans","fontSize":19.1,"color":"#222222","align":"left","baseline":"middle"},"encoding":{"x":{"field":"i","type":"quantitative"},"y":{"field":"p","type":"quantitative"},"text":{"field":"t"}}},
{"data":{"name":"notes"},"transform":[{"filter":"datum.k=='mark'"}],"mark":{"type":"text","font":"Liberation Sans","fontSize":34.5,"color":"#bdbdbd","opacity":0.5,"align":"left","baseline":"middle"},"encoding":{"x":{"field":"i","type":"quantitative"},"y":{"field":"p","type":"quantitative"},"text":{"field":"t"}}},
{"data":{"name":"notes"},"transform":[{"filter":"datum.k=='tiger'"}],"mark":{"type":"text","font":"Liberation Sans","fontSize":25.5,"color":"#c8c8c8","align":"left","baseline":"middle"},"encoding":{"x":{"field":"i","type":"quantitative"},"y":{"field":"p","type":"quantitative"},"text":{"field":"t"}}},
{"data":{"name":"notes"},"transform":[{"filter":"datum.k=='esignal'"}],"mark":{"type":"text","font":"Liberation Sans","fontSize":9.5,"color":"#555555","align":"left","baseline":"middle"},"encoding":{"x":{"field":"i","type":"quantitative"},"y":{"field":"p","type":"quantitative"},"text":{"field":"t"}}},
{"data":{"name":"notes"},"transform":[{"filter":"datum.k=='dyn'"}],"mark":{"type":"text","font":"Liberation Sans","fontSize":11,"color":"#cccccc","align":"left","baseline":"middle"},"encoding":{"x":{"field":"i","type":"quantitative"},"y":{"field":"p","type":"quantitative"},"text":{"field":"t"}}},
{"data":{"name":"notes"},"transform":[{"filter":"datum.k=='date'"}],"mark":{"type":"text","font":"Liberation Sans","fontWeight":"bold","fontSize":21,"color":"#ffffff","align":"center","baseline":"middle"},"encoding":{"x":{"field":"i","type":"quantitative"},"y":{"field":"p","type":"quantitative"},"text":{"field":"t"}}},
{"data":{"name":"notes"},"transform":[{"filter":"datum.k=='tag'"}],"mark":{"type":"text","font":"Liberation Sans","fontWeight":"bold","fontSize":21,"color":"#ffffff","align":"left","baseline":"middle"},"encoding":{"x":{"field":"i","type":"quantitative"},"y":{"field":"p","type":"quantitative"},"text":{"field":"t"}}}
]}
